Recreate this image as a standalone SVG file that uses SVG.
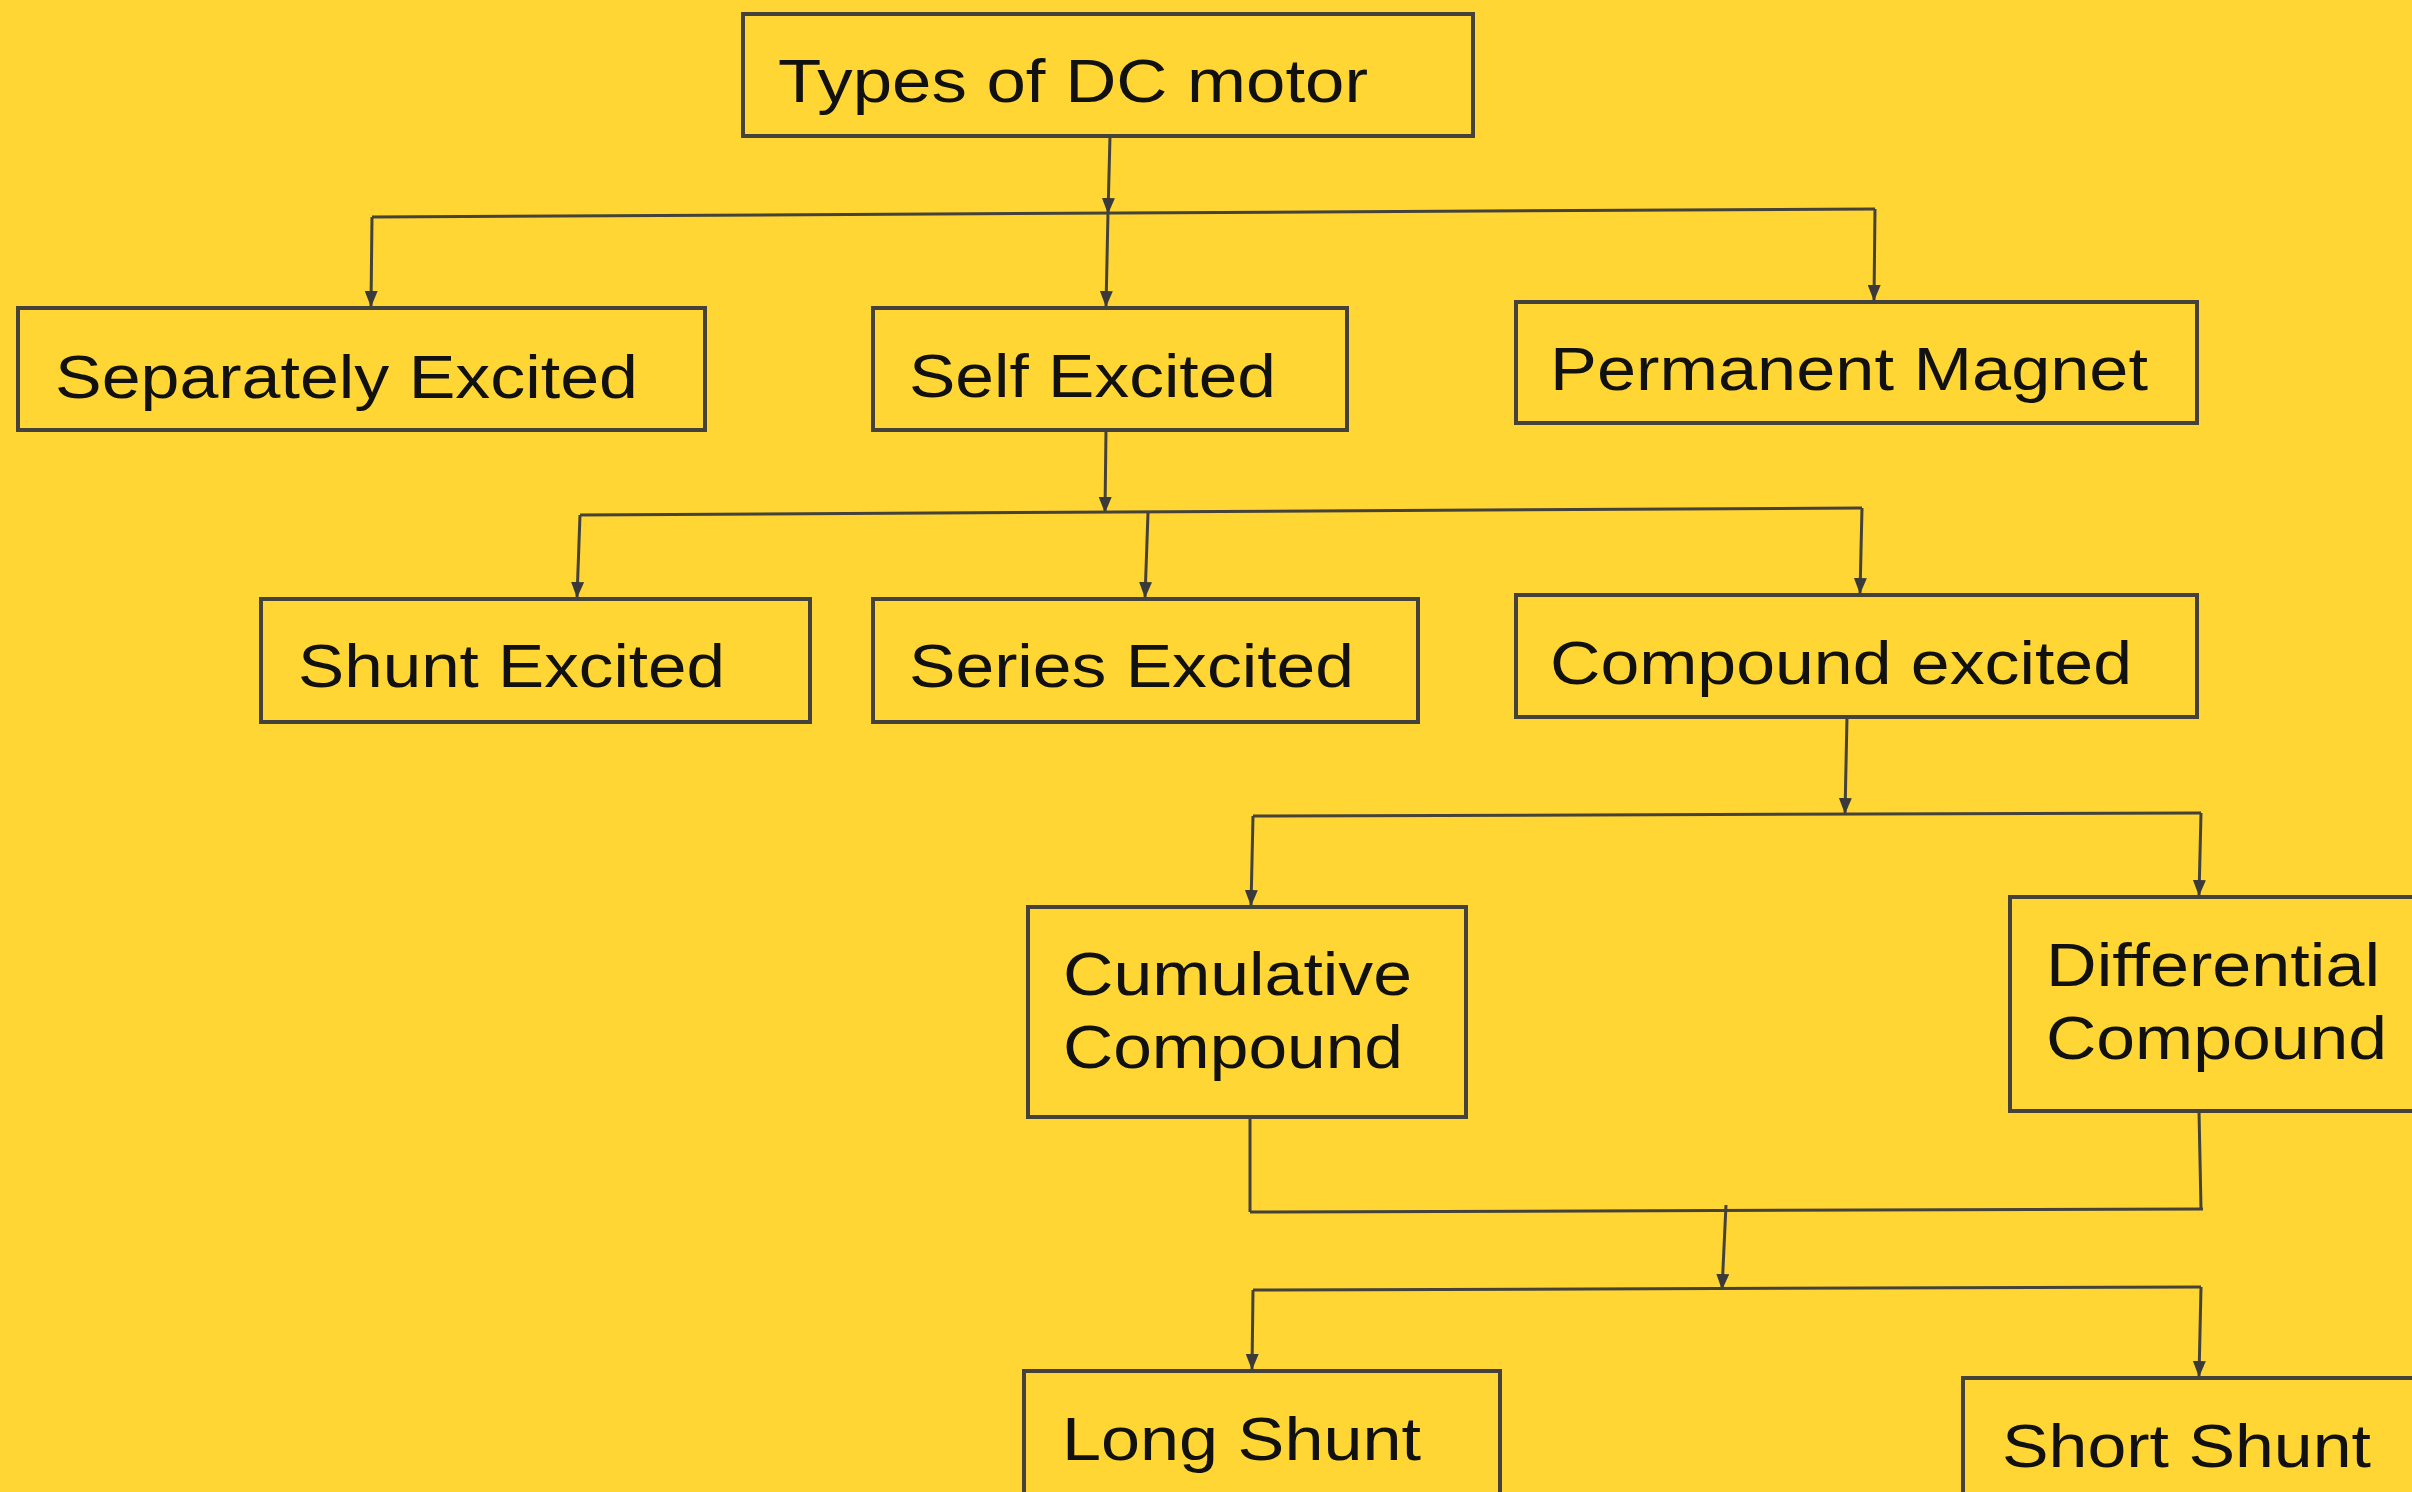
<svg xmlns="http://www.w3.org/2000/svg" width="2412" height="1492" viewBox="0 0 2412 1492">
<style>
.box{fill:none;stroke:#44423a;stroke-width:4}
.lbl{font-family:"Liberation Sans",Arial,sans-serif;font-size:62px;fill:#111;}
.con{fill:none;stroke:#44423a;stroke-width:3}
</style>
<defs>
<marker id="ah" markerUnits="userSpaceOnUse" markerWidth="16" markerHeight="13" refX="16" refY="6.5" orient="auto">
<path d="M0,0 L16,6.5 L0,13 z" fill="#3a3a3a"/>
</marker>
</defs>
<rect width="2412" height="1492" fill="#FFD633"/>
<g id="connectors">
<line class="con" x1="1110" y1="136" x2="1108" y2="214" marker-end="url(#ah)"/>
<line class="con" x1="372" y1="217" x2="1875" y2="209"/>
<line class="con" x1="372" y1="217" x2="371" y2="307" marker-end="url(#ah)"/>
<line class="con" x1="1108" y1="213" x2="1106" y2="307" marker-end="url(#ah)"/>
<line class="con" x1="1875" y1="209" x2="1874" y2="301" marker-end="url(#ah)"/>
<line class="con" x1="1106" y1="430" x2="1105" y2="513" marker-end="url(#ah)"/>
<line class="con" x1="580" y1="515" x2="1862" y2="508"/>
<line class="con" x1="580" y1="515" x2="577" y2="598" marker-end="url(#ah)"/>
<line class="con" x1="1148" y1="513" x2="1145" y2="598" marker-end="url(#ah)"/>
<line class="con" x1="1862" y1="508" x2="1860" y2="594" marker-end="url(#ah)"/>
<line class="con" x1="1847" y1="717" x2="1845" y2="814" marker-end="url(#ah)"/>
<line class="con" x1="1253" y1="816" x2="2201" y2="813"/>
<line class="con" x1="1253" y1="816" x2="1251" y2="906" marker-end="url(#ah)"/>
<line class="con" x1="2201" y1="813" x2="2199" y2="896" marker-end="url(#ah)"/>
<line class="con" x1="1250" y1="1117" x2="1250" y2="1212"/>
<line class="con" x1="2199" y1="1111" x2="2201" y2="1209"/>
<line class="con" x1="1250" y1="1212" x2="2203" y2="1209"/>
<line class="con" x1="1726" y1="1205" x2="1722" y2="1290" marker-end="url(#ah)"/>
<line class="con" x1="1253" y1="1290" x2="2201" y2="1287"/>
<line class="con" x1="1253" y1="1290" x2="1252" y2="1370" marker-end="url(#ah)"/>
<line class="con" x1="2201" y1="1287" x2="2199" y2="1377" marker-end="url(#ah)"/>
</g>
<g id="n-types"><rect class="box" x="743" y="14" width="730" height="122"/><text class="lbl" x="778" y="102" textLength="590" lengthAdjust="spacingAndGlyphs">Types of DC motor</text></g>
<g id="n-separately"><rect class="box" x="18" y="308" width="687" height="122"/><text class="lbl" x="55" y="398" textLength="583" lengthAdjust="spacingAndGlyphs">Separately Excited</text></g>
<g id="n-self"><rect class="box" x="873" y="308" width="474" height="122"/><text class="lbl" x="909" y="397" textLength="367" lengthAdjust="spacingAndGlyphs">Self Excited</text></g>
<g id="n-permanent"><rect class="box" x="1516" y="302" width="681" height="121"/><text class="lbl" x="1550" y="390" textLength="598" lengthAdjust="spacingAndGlyphs">Permanent Magnet</text></g>
<g id="n-shunt"><rect class="box" x="261" y="599" width="549" height="123"/><text class="lbl" x="298" y="687" textLength="427" lengthAdjust="spacingAndGlyphs">Shunt Excited</text></g>
<g id="n-series"><rect class="box" x="873" y="599" width="545" height="123"/><text class="lbl" x="909" y="687" textLength="445" lengthAdjust="spacingAndGlyphs">Series Excited</text></g>
<g id="n-compound"><rect class="box" x="1516" y="595" width="681" height="122"/><text class="lbl" x="1550" y="684" textLength="582" lengthAdjust="spacingAndGlyphs">Compound excited</text></g>
<g id="n-cumulative"><rect class="box" x="1028" y="907" width="438" height="210"/><text class="lbl" x="1063" y="995" textLength="349" lengthAdjust="spacingAndGlyphs">Cumulative</text><text class="lbl" x="1063" y="1068" textLength="340" lengthAdjust="spacingAndGlyphs">Compound</text></g>
<g id="n-differential"><rect class="box" x="2010" y="897" width="420" height="214"/><text class="lbl" x="2046" y="986" textLength="334" lengthAdjust="spacingAndGlyphs">Differential</text><text class="lbl" x="2046" y="1059" textLength="341" lengthAdjust="spacingAndGlyphs">Compound</text></g>
<g id="n-long"><rect class="box" x="1024" y="1371" width="476" height="140"/><text class="lbl" x="1062" y="1460" textLength="359" lengthAdjust="spacingAndGlyphs">Long Shunt</text></g>
<g id="n-short"><rect class="box" x="1963" y="1378" width="470" height="140"/><text class="lbl" x="2002" y="1467" textLength="369" lengthAdjust="spacingAndGlyphs">Short Shunt</text></g>
</svg>
